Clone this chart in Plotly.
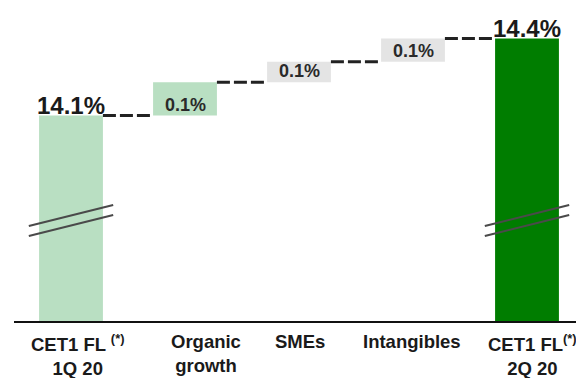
import plotly.graph_objects as go

# ---- data ----
categories = ["CET1 FL <sup>(*)</sup><br>1Q 20", "Organic<br>growth", "SMEs",
              "Intangibles", "CET1 FL<sup>(*)</sup><br>2Q 20"]
start_value = 14.10
deltas = [0.13, 0.08, 0.09]
end_value = 14.40
total_labels = ["14.1%", "14.4%"]

# ---- styling ----
c_light_green = "#b9dfc2"
c_gray = "#e4e4e4"
c_dark_green = "#007d00"
delta_colors = [c_light_green, c_gray, c_gray]
font_family = "Liberation Sans, Arial, sans-serif"
bar_w = 0.56
y_range = [13.30, 14.519]
label_xshift = [7, 21, 1, -1, 5]   # category label nudges (pixels)

# compute bar bases / tops from data
x = list(range(len(categories)))
bases = [0]
heights = [start_value]
level = start_value
for d in deltas:
    bases.append(level)
    heights.append(d)
    level += d
bases.append(0)
heights.append(end_value)
tops = [b + h for b, h in zip(bases, heights)]
colors = [c_light_green] + delta_colors + [c_dark_green]

fig = go.Figure()
fig.add_trace(go.Bar(x=x, y=heights, base=bases, width=bar_w,
                     marker=dict(color=colors, line=dict(width=0)),
                     hoverinfo="skip"))

# dashed connectors
for i in range(len(x) - 1):
    fig.add_trace(go.Scatter(x=[x[i] + bar_w / 2, x[i + 1] - bar_w / 2],
                             y=[tops[i], tops[i]], mode="lines",
                             line=dict(color="#222222", width=3, dash="13px,4px"),
                             hoverinfo="skip", cliponaxis=False))

annotations = []
# total labels
for i, lab in zip([0, len(x) - 1], total_labels):
    annotations.append(dict(x=x[i], y=tops[i], text=f"<b>{lab}</b>", showarrow=False,
                            yanchor="bottom", yshift=-5,
                            font=dict(family=font_family, size=24, color="#1a1a1a")))
# delta labels
for j, d in enumerate(deltas):
    i = j + 1
    annotations.append(dict(x=x[i], y=bases[i], text=f"<b>{d:.1f}%</b>", showarrow=False,
                            yanchor="bottom", yshift=-1,
                            font=dict(family=font_family, size=18, color="#2a2a2a")))
# category labels
for i, c in enumerate(categories):
    annotations.append(dict(x=x[i], xref="x", y=0, yref="paper", text=f"<b>{c}</b>",
                            showarrow=False, yanchor="top", xanchor="center",
                            align="center", xshift=label_xshift[i], yshift=-8,
                            font=dict(family=font_family, size=18.5, color="#1a1a1a")))

# axis break marks on total bars
shapes = []
for i in [0, len(x) - 1]:
    for y0, y1 in [(0.3035, 0.3706), (0.2716, 0.3387)]:
        shapes.append(dict(type="line", xref="x", yref="paper",
                           x0=x[i] - 0.37, x1=x[i] + 0.37, y0=y0, y1=y1,
                           line=dict(color="#4a4a4a", width=2)))

fig.update_layout(
    width=576, height=370,
    margin=dict(l=6, r=0, t=0, b=57),
    plot_bgcolor="white", paper_bgcolor="white",
    showlegend=False,
    annotations=annotations,
    shapes=shapes,
    xaxis=dict(range=[-0.5, 4.5], showticklabels=False,
               showline=True, linecolor="#111111", linewidth=2, showgrid=False,
               zeroline=False, ticks="", automargin=False),
    yaxis=dict(range=y_range, visible=False, showgrid=False, zeroline=False,
               automargin=False),
)

fig.write_html("out.html")
